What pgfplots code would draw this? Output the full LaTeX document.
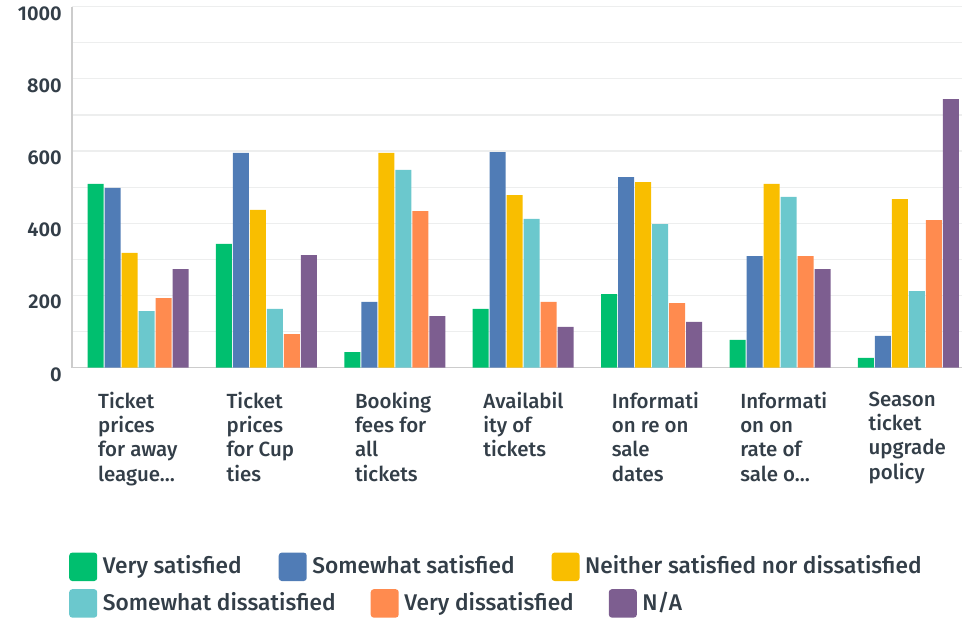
\documentclass[border=0pt]{standalone}
\usepackage{fontspec}
\setmainfont{Fira Sans Medium}[BoldFont={Fira Sans SemiBold}]
\usepackage{pgfplots}
\pgfplotsset{compat=1.18}

\definecolor{vs}{HTML}{00BF6F}
\definecolor{ss}{HTML}{507CB6}
\definecolor{ne}{HTML}{F9BE00}
\definecolor{sd}{HTML}{6BC8CD}
\definecolor{vd}{HTML}{FF8B4F}
\definecolor{na}{HTML}{7D5E90}
\definecolor{txt}{HTML}{333E48}
\definecolor{gridc}{HTML}{EDEEEE}
\definecolor{axisc}{HTML}{CCCCCC}

\pgfplotstableread{
x   vs  ss  ne  sd  vd  na
0   509 498 318 157 193 273
1   343 595 437 163  93 312
2    43 182 595 548 434 143
3   163 597 478 412 182 113
4   204 528 514 398 179 127
5    77 309 509 473 309 273
6    27  88 467 212 409 744
}\data

\pgfplotsset{
  swatch/.style={legend image code/.code={%
    \fill[##1, draw=none, rounded corners=3pt] (0pt,-15.5pt) rectangle (28pt,12.9pt);}},
  legrow/.style={
    legend style={draw=none, fill=none, inner sep=0pt, outer sep=0pt,
      anchor=north west, legend cell align=left,
      font=\fontsize{22.7}{24}\selectfont\color{txt},
      nodes={inner sep=0pt},
      /tikz/every odd column/.append style={column sep=5.6pt},
      /tikz/every even column/.append style={column sep=37pt}},
    legend columns=-1},
}

\begin{document}
\begin{tikzpicture}
\useasboundingbox (-72pt,-252.3pt) rectangle (890pt,367.7pt);
\begin{axis}[
  at={(0pt,0pt)}, anchor=south west,
  scale only axis, width=890pt, height=361pt,
  ybar=1pt, bar width=16pt,
  xmin=-0.514, xmax=6.417, ymin=0, ymax=1000,
  axis x line*=bottom, axis y line*=left,
  axis line style={draw=axisc, line width=1.5pt, -},
  xtick={0,1,2,3,4,5,6},
  xticklabels={
    {Ticket\\prices\\for away\\league…},
    {Ticket\\prices\\for Cup\\ties},
    {Booking\\fees for\\all\\tickets},
    {Availabil\\ity of\\tickets},
    {Informati\\on re on\\sale\\dates},
    {Informati\\on on\\rate of\\sale o…},
    {Season\\ticket\\upgrade\\policy}},
  xticklabel style={anchor=north west, align=left, inner sep=0pt,
    xshift=-40pt, yshift=-24pt,
    font=\fontsize{20.5}{24.3}\selectfont, text=txt},
  ytick={0,200,400,600,800,1000},
  minor ytick={100,300,500,700,900},
  yticklabel style={anchor=north east, inner sep=0pt, xshift=-10pt, yshift=0.5pt,
    font=\fontsize{20}{20}\selectfont\bfseries, text=txt},
  /pgf/number format/assume math mode=true,
  /pgf/number format/1000 sep={},
  major tick length=0pt, minor tick length=0pt,
  ymajorgrids, yminorgrids,
  major grid style={draw=gridc, line width=1.2pt},
  minor grid style={draw=gridc, line width=1.2pt},
  every axis plot/.append style={draw=none},
  every axis plot post/.append style={swatch},
  legrow,
  legend style={at={(rel axis cs:-0.0031,-0.5122)}},
]
\addplot[fill=vs] table[x=x, y=vs] {\data};
\addplot[fill=ss] table[x=x, y=ss] {\data};
\addplot[fill=ne] table[x=x, y=ne] {\data};
\addplot[fill=sd] table[x=x, y=sd] {\data};
\addplot[fill=vd] table[x=x, y=vd] {\data};
\addplot[fill=na] table[x=x, y=na] {\data};
\legend{Very satisfied, Somewhat satisfied, Neither satisfied nor dissatisfied}
\end{axis}
\begin{axis}[
  at={(0pt,0pt)}, anchor=south west,
  scale only axis, width=890pt, height=361pt,
  xmin=0, xmax=1, ymin=0, ymax=1, hide axis,
  legrow,
  legend style={at={(rel axis cs:-0.0031,-0.6136)},
    /tikz/every even column/.append style={column sep=35pt}},
]
\addlegendimage{fill=sd, swatch}
\addlegendentry{Somewhat dissatisfied}
\addlegendimage{fill=vd, swatch}
\addlegendentry{Very dissatisfied}
\addlegendimage{fill=na, swatch}
\addlegendentry{N/A}
\end{axis}
\end{tikzpicture}
\end{document}
